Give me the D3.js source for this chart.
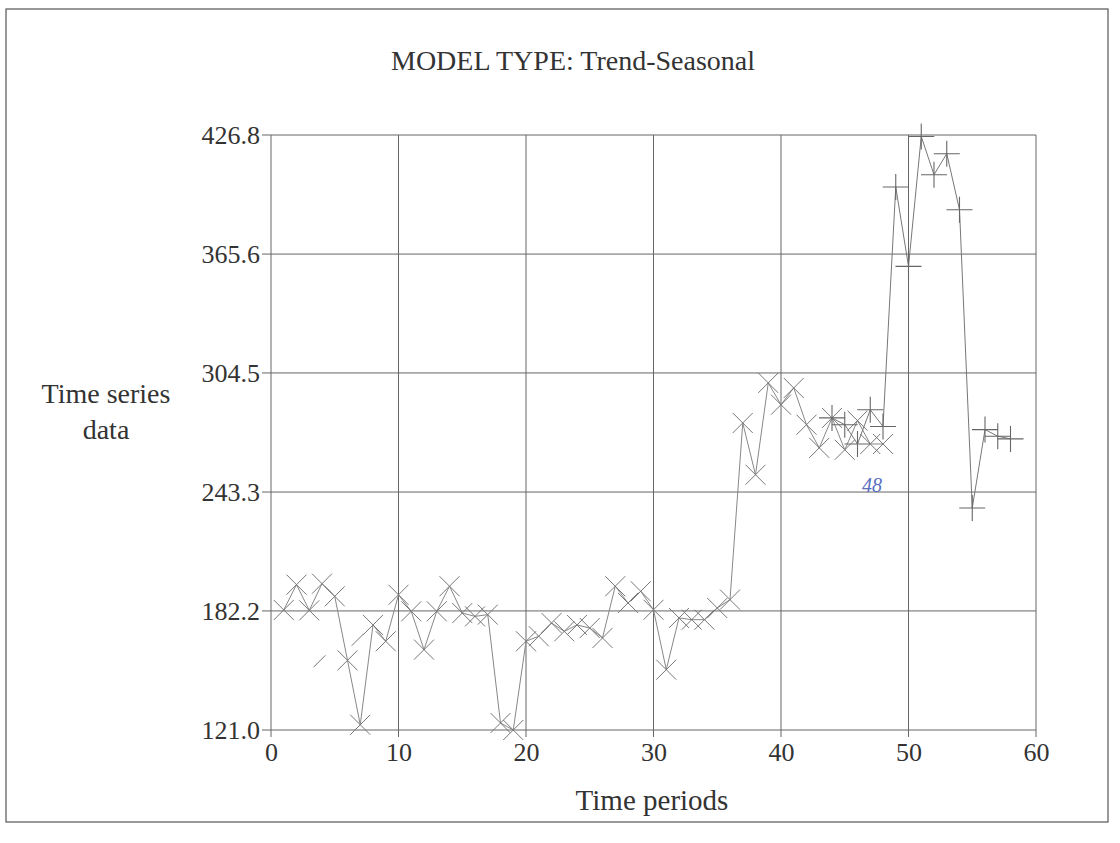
<!DOCTYPE html>
<html>
<head>
<meta charset="utf-8">
<script src="https://cdn.jsdelivr.net/npm/d3@7"></script>
<style>
  body { margin: 0; background: #fff; }
  text { font-family: "Liberation Serif", "Times New Roman", serif; fill: #333; }
</style>
</head>
<body>
<div id="chart"></div>
<script>
// observed series, drawn with X markers (periods 1..48)
var periodsX = d3.range(1, 49);
var valuesX = [182.7, 195.7, 182.5, 196.2, 189.7, 156.8, 123.7, 175.0, 166.6, 190.5,
               182.0, 162.3, 182.0, 194.9, 181.1, 179.4, 180.3, 124.6, 121.0, 166.6,
               169.2, 176.0, 171.7, 175.0, 173.4, 168.3, 194.9, 186.3, 192.3, 182.8,
               152.0, 178.6, 177.7, 177.7, 183.7, 188.0, 278.8, 252.2, 299.4, 288.2,
               296.8, 277.9, 266.0, 281.4, 265.0, 280.0, 268.0, 268.0];

// second series, drawn with + markers (periods 44..58)
var periodsP = d3.range(44, 59);
var valuesP = [281.4, 277.9, 268.0, 285.6, 277.0, 400.1, 359.3, 426.0, 406.4, 417.2,
               388.4, 235.1, 275.4, 272.0, 270.6];

// two small stray markers near the start
var periodsS = [3.8, 6.8];
var valuesS = [156.3, 167.4];

var xTicks = [0, 10, 20, 30, 40, 50, 60];
var yTicks = [121.0, 182.2, 243.3, 304.5, 365.6, 426.8];

var W = 1120, H = 843;
var mLeft = 271, mRight = 1036, mTop = 135, mBottom = 730;

var svg = d3.select("#chart").append("svg")
    .attr("width", W)
    .attr("height", H);

// outer frame
svg.append("rect")
    .attr("x", 6).attr("y", 9)
    .attr("width", 1102).attr("height", 813)
    .attr("fill", "none")
    .attr("stroke", "#555")
    .attr("stroke-width", 1.2);

var x = d3.scaleLinear().domain([0, 60]).range([mLeft, mRight]);
var y = d3.scaleLinear().domain([121.0, 426.8]).range([mBottom, mTop]);

// grid
svg.append("g").selectAll("line")
    .data(xTicks)
    .enter().append("line")
    .attr("x1", d => x(d)).attr("x2", d => x(d))
    .attr("y1", mTop).attr("y2", mBottom + 7)
    .attr("stroke", "#666").attr("stroke-width", 1);

svg.append("g").selectAll("line")
    .data(yTicks)
    .enter().append("line")
    .attr("x1", mLeft - 9).attr("x2", mRight)
    .attr("y1", d => y(d)).attr("y2", d => y(d))
    .attr("stroke", "#666").attr("stroke-width", 1);

// axes labels
var xAxis = d3.axisBottom(x).tickValues(xTicks).tickSize(0).tickPadding(13);
svg.append("g")
    .attr("transform", "translate(0," + mBottom + ")")
    .call(xAxis)
    .call(g => g.select(".domain").remove())
    .selectAll("text")
    .style("font-size", "26px")
    .style("font-family", "Liberation Serif, serif")
    .attr("fill", "#333");

var yAxis = d3.axisLeft(y).tickValues(yTicks).tickFormat(d3.format(".1f")).tickSize(0).tickPadding(11);
svg.append("g")
    .attr("transform", "translate(" + mLeft + ",0)")
    .call(yAxis)
    .call(g => g.select(".domain").remove())
    .selectAll("text")
    .style("font-size", "26px")
    .style("font-family", "Liberation Serif, serif")
    .attr("fill", "#333");

// lines
var line = d3.line().x(d => x(d[0])).y(d => y(d[1]));

svg.append("path")
    .datum(d3.zip(periodsX, valuesX))
    .attr("d", line)
    .attr("fill", "none")
    .attr("stroke", "#888")
    .attr("stroke-width", 1);

svg.append("path")
    .datum(d3.zip(periodsP, valuesP))
    .attr("d", line)
    .attr("fill", "none")
    .attr("stroke", "#777")
    .attr("stroke-width", 1);

// X markers
var s = 10;
svg.append("g").selectAll("path")
    .data(d3.zip(periodsX, valuesX))
    .enter().append("path")
    .attr("d", d => {
        var cx = x(d[0]), cy = y(d[1]);
        return "M" + (cx - s) + "," + (cy - s) + "L" + (cx + s) + "," + (cy + s) +
               "M" + (cx - s) + "," + (cy + s) + "L" + (cx + s) + "," + (cy - s);
    })
    .attr("stroke", "#777")
    .attr("stroke-width", 1)
    .attr("fill", "none");

// + markers
var p = 13;
svg.append("g").selectAll("path")
    .data(d3.zip(periodsP, valuesP))
    .enter().append("path")
    .attr("d", d => {
        var cx = x(d[0]), cy = y(d[1]);
        return "M" + (cx - p) + "," + cy + "L" + (cx + p) + "," + cy +
               "M" + cx + "," + (cy - p) + "L" + cx + "," + (cy + p);
    })
    .attr("stroke", "#666")
    .attr("stroke-width", 1.1)
    .attr("fill", "none");

// small stray marks
svg.append("g").selectAll("path")
    .data(d3.zip(periodsS, valuesS))
    .enter().append("path")
    .attr("d", d => {
        var cx = x(d[0]), cy = y(d[1]);
        return "M" + (cx - 6) + "," + (cy + 6) + "L" + (cx + 6) + "," + (cy - 6);
    })
    .attr("stroke", "#777")
    .attr("stroke-width", 1);

// titles
svg.append("text")
    .attr("x", 573).attr("y", 70)
    .attr("text-anchor", "middle")
    .style("font-size", "28px")
    .text("MODEL TYPE: Trend-Seasonal");

svg.append("text")
    .attr("x", 652).attr("y", 810)
    .attr("text-anchor", "middle")
    .style("font-size", "29px")
    .text("Time periods");

svg.append("text")
    .attr("x", 106).attr("y", 403)
    .attr("text-anchor", "middle")
    .style("font-size", "28px")
    .text("Time series");

svg.append("text")
    .attr("x", 106).attr("y", 439)
    .attr("text-anchor", "middle")
    .style("font-size", "28px")
    .text("data");

// handwritten note
svg.append("text")
    .attr("x", 872).attr("y", 492)
    .attr("text-anchor", "middle")
    .style("font-size", "20px")
    .style("font-style", "italic")
    .style("fill", "#5a6fc0")
    .text("48");
</script>
</body>
</html>
